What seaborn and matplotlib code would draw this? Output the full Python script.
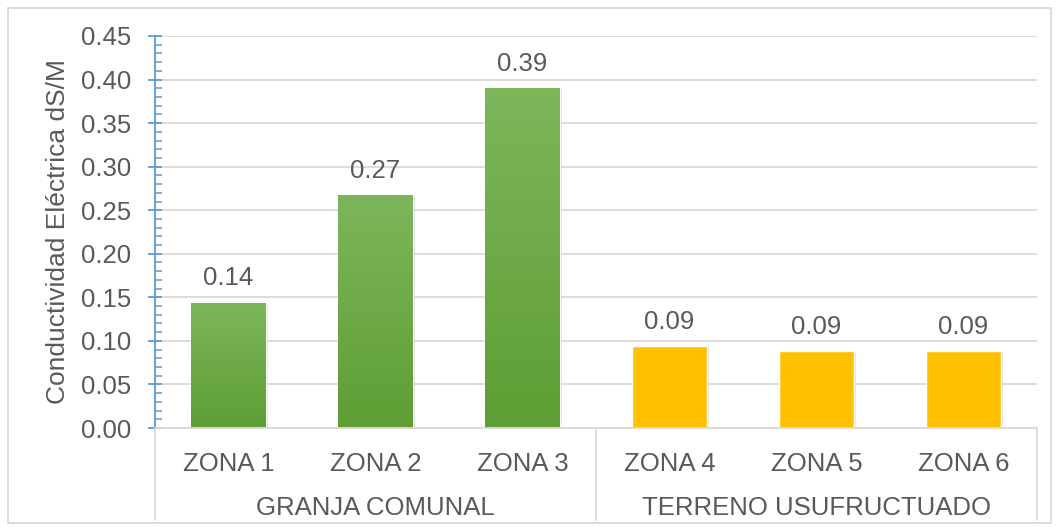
import numpy as np
import pandas as pd
import matplotlib
matplotlib.use('Agg')
import matplotlib.pyplot as plt
import matplotlib.patches as mpatches
import matplotlib.transforms as mtrans
from matplotlib.colors import LinearSegmentedColormap
from matplotlib.ticker import MultipleLocator, FormatStrFormatter
import seaborn as sns

zonas = ['ZONA 1', 'ZONA 2', 'ZONA 3', 'ZONA 4', 'ZONA 5', 'ZONA 6']
grupos = ['GRANJA COMUNAL', 'GRANJA COMUNAL', 'GRANJA COMUNAL',
          'TERRENO USUFRUCTUADO', 'TERRENO USUFRUCTUADO', 'TERRENO USUFRUCTUADO']
conductividad = [0.144, 0.267, 0.390, 0.094, 0.088, 0.088]
colores = ['#70AD47', '#70AD47', '#70AD47', '#FFC000', '#FFC000', '#FFC000']

df = pd.DataFrame({'zona': zonas, 'grupo': grupos, 'ce': conductividad})

sns.set_style('white')
plt.rcParams['font.family'] = ['Liberation Sans', 'DejaVu Sans']
txt = '#595959'
grid_c = '#D9D9D9'
fs = 18.5

fig = plt.figure(figsize=(10.59, 5.31), dpi=100)
ax = fig.add_axes([155 / 1059, 103 / 531, 882 / 1059, 392 / 531])

sns.barplot(data=df, x='zona', y='ce', hue='zona', palette=colores,
            width=0.51, legend=False, ax=ax, saturation=1)

# gradient on the green bars + soft shadow
green_cm = LinearSegmentedColormap.from_list('g', ['#5E9E34', '#7DB65B'])
for i, bar in enumerate(ax.patches):
    x0, y0 = bar.get_x(), bar.get_y()
    w, h = bar.get_width(), bar.get_height()
    shadow = mpatches.Rectangle((x0, y0), w, h, facecolor='#000000', alpha=0.12,
                                edgecolor='none', zorder=bar.get_zorder() - 0.1)
    shadow.set_transform(ax.transData + mtrans.ScaledTranslation(2 / 100, -1 / 100, fig.dpi_scale_trans))
    ax.add_patch(shadow)
    if grupos[i] == 'GRANJA COMUNAL':
        grad = np.linspace(0, 1, 256).reshape(-1, 1)
        im = ax.imshow(grad, cmap=green_cm, origin='lower', aspect='auto',
                       extent=[x0, x0 + w, y0, y0 + h], zorder=bar.get_zorder() + 0.1)
        im.set_clip_path(bar)

for c in ax.containers:
    ax.bar_label(c, fmt='%.2f', padding=9, fontsize=fs, color=txt)

ax.set_xlim(-0.5, 5.5)
ax.set_ylim(0, 0.45)
ax.yaxis.set_major_locator(MultipleLocator(0.05))
ax.yaxis.set_minor_locator(MultipleLocator(0.01))
ax.yaxis.set_major_formatter(FormatStrFormatter('%.2f'))
ax.grid(axis='y', color=grid_c, linewidth=1.3)
ax.set_axisbelow(True)

for s in ['top', 'right']:
    ax.spines[s].set_visible(False)
ax.spines['left'].set_color('#5B9BD5')
ax.spines['left'].set_linewidth(1.3)
ax.spines['bottom'].set_color(grid_c)
ax.spines['bottom'].set_linewidth(1.3)

ax.tick_params(axis='y', which='major', direction='inout', length=10, width=1.3,
               color='#5B9BD5', labelsize=fs, labelcolor=txt, pad=12, left=True)
ax.tick_params(axis='y', which='minor', direction='in', length=5, width=1.1,
               color='#5B9BD5', left=True)
ax.tick_params(axis='x', length=0, labelsize=fs, labelcolor=txt, pad=17)

ax.set_xlabel('')
ax.set_ylabel('Conductividad Eléctrica dS/M', fontsize=19, color=txt, labelpad=8)

# group separators and group labels below the category axis
trans = mtrans.blended_transform_factory(ax.transData, ax.transAxes)
for xv in [-0.5, 2.5, 5.5]:
    ax.plot([xv, xv], [0, -0.235], transform=trans, color=grid_c,
            linewidth=1.3, clip_on=False)
ax.text(1, -0.205, 'GRANJA COMUNAL', transform=trans, ha='center', va='center',
        fontsize=fs, color=txt)
ax.text(4, -0.205, 'TERRENO USUFRUCTUADO', transform=trans, ha='center', va='center',
        fontsize=fs, color=txt)

fig.patches.append(mpatches.Rectangle((8 / 1059, 8 / 531), 1043 / 1059, 515 / 531,
                                      transform=fig.transFigure, fill=False,
                                      edgecolor=grid_c, linewidth=1.3))

fig.savefig('out.png', dpi=100)
